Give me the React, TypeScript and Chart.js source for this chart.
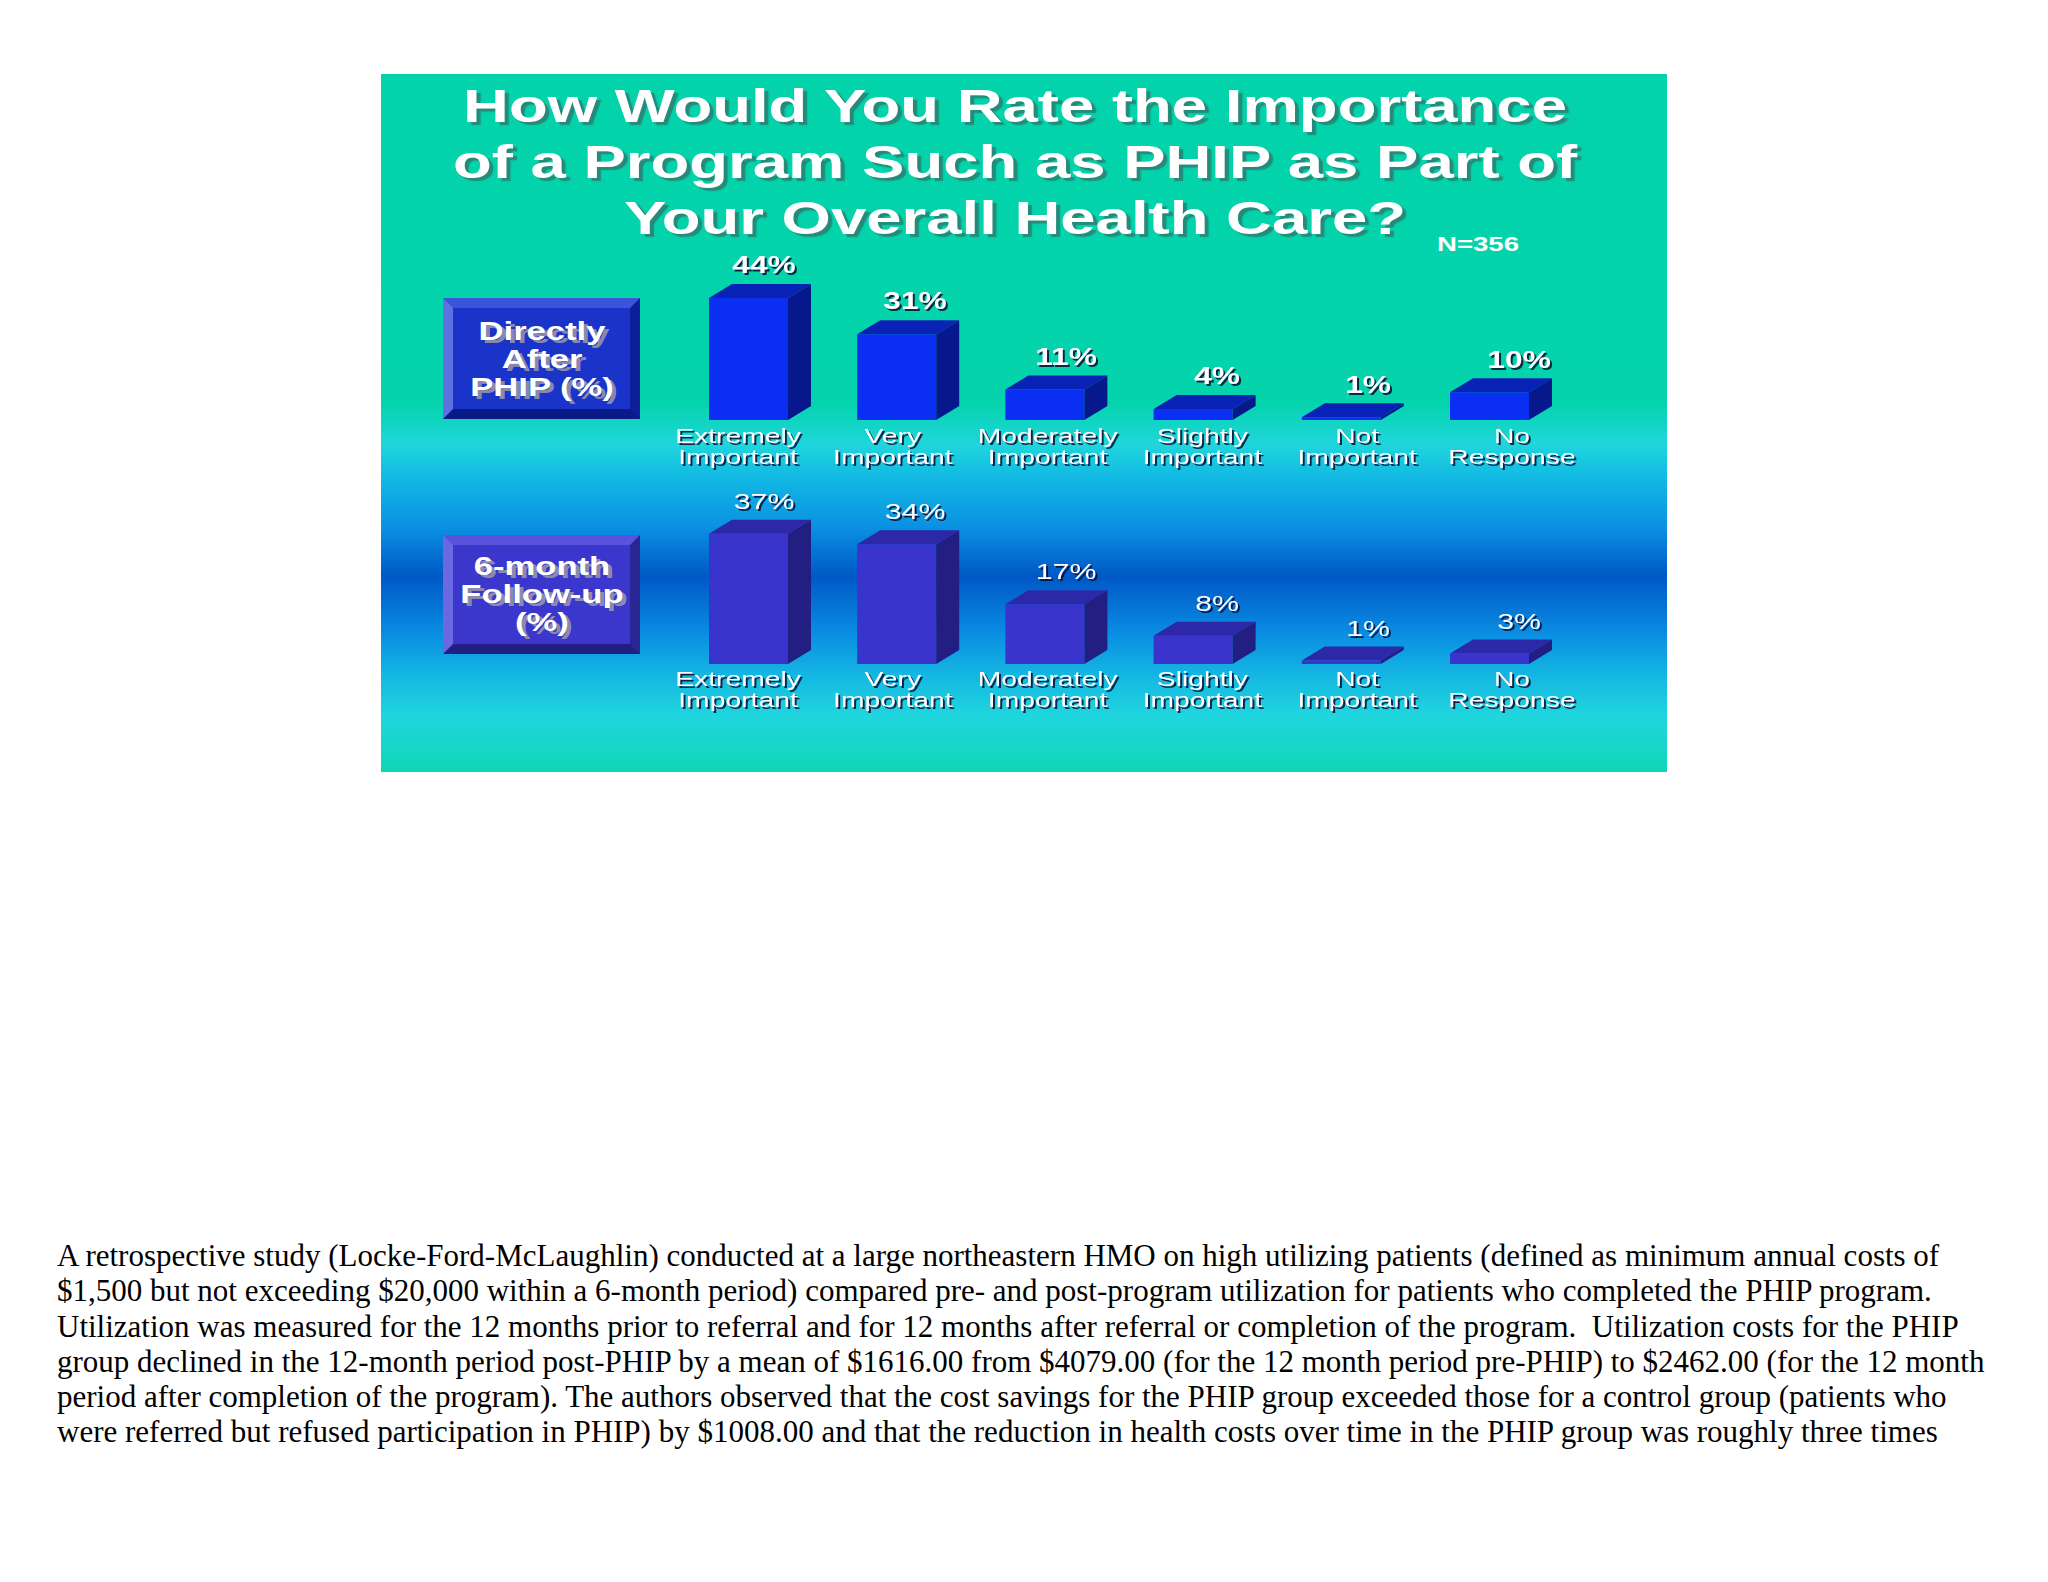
import React, { useEffect, useRef } from "react";
import { Chart, registerables } from "chart.js";

Chart.register(...registerables);

// ---------- data ----------
const categories: string[][] = [
  ["Extremely", "Important"],
  ["Very", "Important"],
  ["Moderately", "Important"],
  ["Slightly", "Important"],
  ["Not", "Important"],
  ["No", "Response"],
];
const directlyAfterPHIP = [44, 31, 11, 4, 1, 10];
const sixMonthFollowUp = [37, 34, 17, 8, 1, 3];

const titleLines = [
  "How Would You Rate the Importance",
  "of a Program Such as PHIP as Part of",
  "Your Overall Health Care?",
];
const sampleNote = "N=356";
const topBoxLines = ["Directly", "After", "PHIP (%)"];
const bottomBoxLines = ["6-month", "Follow-up", "(%)"];

const paragraphLines = [
  "A retrospective study (Locke-Ford-McLaughlin) conducted at a large northeastern HMO on high utilizing patients (defined as minimum annual costs of",
  "$1,500 but not exceeding $20,000 within a 6-month period) compared pre- and post-program utilization for patients who completed the PHIP program.",
  "Utilization was measured for the 12 months prior to referral and for 12 months after referral or completion of the program.  Utilization costs for the PHIP",
  "group declined in the 12-month period post-PHIP by a mean of $1616.00 from $4079.00 (for the 12 month period pre-PHIP) to $2462.00 (for the 12 month",
  "period after completion of the program). The authors observed that the cost savings for the PHIP group exceeded those for a control group (patients who",
  "were referred but refused participation in PHIP) by $1008.00 and that the reduction in health costs over time in the PHIP group was roughly three times",
];

const SANS = '"Liberation Sans", Arial, sans-serif';
const STRETCH = 1.38;

type RowStyle = {
  front: string;
  top: string;
  side: string;
  yMax: number;
  padTop: number;
  padBottom: number;
  valueFont: string;
  labelOffsets: [number, number];
};

const topRow: RowStyle = {
  front: "#0a2ef2",
  top: "#0722b4",
  side: "#06188c",
  yMax: 50,
  padTop: 41.5,
  padBottom: 60,
  valueFont: `bold 23px ${SANS}`,
  labelOffsets: [17, 38],
};
const bottomRow: RowStyle = {
  front: "#3934cc",
  top: "#2c28a8",
  side: "#221e82",
  yMax: 40,
  padTop: 43.2,
  padBottom: 56,
  valueFont: `22px ${SANS}`,
  labelOffsets: [16, 37],
};

function stretchedText(
  ctx: CanvasRenderingContext2D,
  text: string,
  x: number,
  y: number,
  font: string,
  shadow: string
) {
  ctx.save();
  ctx.font = font;
  ctx.textAlign = "center";
  ctx.textBaseline = "middle";
  ctx.translate(x, y);
  ctx.scale(STRETCH, 1);
  ctx.fillStyle = shadow;
  ctx.fillText(text, 2 / STRETCH, 2);
  ctx.fillStyle = "#ffffff";
  ctx.fillText(text, 0, 0);
  ctx.restore();
}

// canvas sits at page x = 640; text boxes in the slide are spread slightly wider than the bars
const CANVAS_LEFT = 640;

function make3dPlugin(style: RowStyle) {
  const dx = 23;
  const dy = 14;
  return {
    id: "bar3d",
    afterDatasetsDraw(chart: any) {
      const ctx: CanvasRenderingContext2D = chart.ctx;
      const meta = chart.getDatasetMeta(0);
      const values = chart.data.datasets[0].data as number[];
      const labels = chart.data.labels as string[][];
      meta.data.forEach((bar: any, i: number) => {
        const { x, y, base, width } = bar.getProps(["x", "y", "base", "width"], true);
        const l = x - width / 2;
        const r = x + width / 2;
        ctx.save();
        // top face
        ctx.fillStyle = style.top;
        ctx.beginPath();
        ctx.moveTo(l, y);
        ctx.lineTo(l + dx, y - dy);
        ctx.lineTo(r + dx, y - dy);
        ctx.lineTo(r, y);
        ctx.closePath();
        ctx.fill();
        // side face
        ctx.fillStyle = style.side;
        ctx.beginPath();
        ctx.moveTo(r, y);
        ctx.lineTo(r + dx, y - dy);
        ctx.lineTo(r + dx, base - dy);
        ctx.lineTo(r, base);
        ctx.closePath();
        ctx.fill();
        ctx.restore();
        const pageX = x + CANVAS_LEFT;
        // value label
        const vx = pageX * 1.019 + 1.3 - CANVAS_LEFT;
        stretchedText(ctx, `${values[i]}%`, vx, y - dy - 17, style.valueFont, "rgba(10,10,50,0.85)");
        // category label
        const lx = pageX * 1.0445 - 43.8 - CANVAS_LEFT;
        const lab = labels[i];
        stretchedText(ctx, lab[0], lx, base + style.labelOffsets[0], `20.5px ${SANS}`, "rgba(10,10,50,0.85)");
        stretchedText(ctx, lab[1], lx, base + style.labelOffsets[1], `20.5px ${SANS}`, "rgba(10,10,50,0.85)");
      });
    },
  };
}

function BarRow({ values, style, top }: { values: number[]; style: RowStyle; top: number }) {
  const ref = useRef<HTMLCanvasElement | null>(null);
  useEffect(() => {
    if (!ref.current) return;
    const chart = new Chart(ref.current, {
      type: "bar",
      data: {
        labels: categories,
        datasets: [
          {
            data: values,
            backgroundColor: style.front,
            borderWidth: 0,
            barPercentage: 0.533,
            categoryPercentage: 1,
          },
        ],
      },
      options: {
        animation: false,
        responsive: false,
        devicePixelRatio: 1,
        layout: { padding: { left: 34.4, right: 36.4, top: style.padTop, bottom: style.padBottom } },
        plugins: { legend: { display: false }, tooltip: { enabled: false } },
        scales: {
          x: { display: false },
          y: { display: false, min: 0, max: style.yMax },
        },
      },
      plugins: [make3dPlugin(style)],
    } as any);
    return () => chart.destroy();
  }, []);
  return (
    <canvas
      ref={ref}
      width={960}
      height={240}
      style={{ position: "absolute", left: CANVAS_LEFT, top, width: 960, height: 240 }}
    />
  );
}

function BevelBox({
  lines,
  top,
  height,
  textTop,
  colors,
}: {
  lines: string[];
  top: number;
  height: number;
  textTop: number;
  colors: { face: string; t: string; l: string; r: string; b: string };
}) {
  return (
    <>
      <div
        style={{
          position: "absolute",
          left: 443,
          top,
          width: 197,
          height,
          boxSizing: "border-box",
          background: colors.face,
          borderStyle: "solid",
          borderWidth: 10,
          borderTopColor: colors.t,
          borderLeftColor: colors.l,
          borderRightColor: colors.r,
          borderBottomColor: colors.b,
        }}
      />
      {lines.map((s, i) => (
        <div
          key={i}
          style={{
            position: "absolute",
            left: 541.5,
            top: textTop + i * 28,
            whiteSpace: "nowrap",
            font: `bold 26px/28px ${SANS}`,
            color: "#ffffff",
            textShadow: "3px 3px 0px rgba(150,150,170,0.9)",
            transform: `translateX(-50%) scaleX(1.33)`,
          }}
        >
          {s}
        </div>
      ))}
    </>
  );
}

export default function App() {
  return (
    <div
      style={{
        position: "absolute",
        left: 0,
        top: 0,
        width: 2048,
        height: 1582,
        background: "#ffffff",
        overflow: "hidden",
      }}
    >
      <div
        style={{
          position: "absolute",
          left: 381,
          top: 74,
          width: 1286,
          height: 698,
          background:
            "linear-gradient(to bottom, #03d3aa 0%, #04d3ab 47%, #1fd6dc 53%, #12b8e4 58%, #0a90e2 65%, #0058c6 72%, #0a8ce2 80%, #14b6e2 86%, #20d6de 92%, #0fd6b6 100%)",
        }}
      />
      {titleLines.map((s, i) => (
        <div
          key={i}
          style={{
            position: "absolute",
            left: 1015,
            top: 78 + i * 56,
            whiteSpace: "nowrap",
            font: `bold 46px/56px ${SANS}`,
            color: "#ffffff",
            textShadow: "3px 3px 1px rgba(60,90,90,0.6)",
            transform: `translateX(-50%) scaleX(${STRETCH})`,
          }}
        >
          {s}
        </div>
      ))}
      <div
        style={{
          position: "absolute",
          left: 1478,
          top: 234,
          whiteSpace: "nowrap",
          font: `bold 20px/20px ${SANS}`,
          color: "#ffffff",
          transform: `translateX(-50%) scaleX(${STRETCH})`,
        }}
      >
        {sampleNote}
      </div>
      <BevelBox
        lines={topBoxLines}
        top={298}
        height={121}
        textTop={317}
        colors={{ face: "#1a33c8", t: "#3a55da", l: "#5c72e2", r: "#0c1f98", b: "#0a1a86" }}
      />
      <BevelBox
        lines={bottomBoxLines}
        top={535}
        height={119}
        textTop={552}
        colors={{ face: "#3b36cc", t: "#5853da", l: "#6c68e2", r: "#2a2692", b: "#221f80" }}
      />
      <BarRow values={directlyAfterPHIP} style={topRow} top={240} />
      <BarRow values={sixMonthFollowUp} style={bottomRow} top={480} />
      <div
        style={{
          position: "absolute",
          left: 57,
          top: 1238,
          font: `31px/35.3px "Liberation Serif", "Times New Roman", serif`,
          color: "#000000",
          whiteSpace: "pre",
        }}
      >
        {paragraphLines.map((s, i) => (
          <div key={i}>{s}</div>
        ))}
      </div>
    </div>
  );
}
